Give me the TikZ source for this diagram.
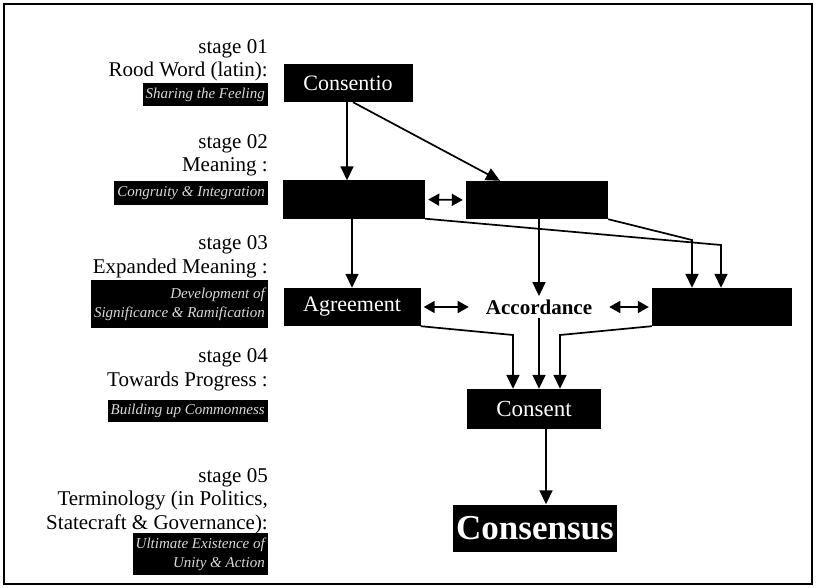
\documentclass[tikz,border=0pt]{standalone}
\usepackage{fontspec}
\setmainfont{Liberation Serif}
\usetikzlibrary{arrows.meta}
\tikzset{
  stage/.style={anchor=base east,align=right,inner sep=0pt,
    font=\fontsize{21}{23.5}\selectfont},
  sense/.style={anchor=east,fill=black,text=white!85!black,align=right,inner sep=3pt,
    font=\fontsize{15}{19}\selectfont\itshape},
  word/.style={fill=black,text=white,minimum height=38pt,
    font=\fontsize{22}{26}\selectfont},
  link/.style={line width=1.7pt,-{Triangle[length=14pt,width=13pt]}},
  both/.style={line width=1.7pt,{Triangle[length=11pt,width=12pt]}-{Triangle[length=11pt,width=12pt]},
    shorten <=3pt,shorten >=3pt}
}
\begin{document}
\begin{tikzpicture}[x=1pt,y=-1pt]
        \useasboundingbox (0,0) rectangle (816,588);
        \draw[line width=1.5pt] (4,4) rectangle (812,584);
        % stages on the left
        \node[stage] (st1) at (268,77) {stage 01\\Rood Word (latin):};
        \node[sense,minimum height=23pt] (se1) at (268,94.5) {Sharing the Feeling};
        \node[stage] (st2) at (268,172) {stage 02\\Meaning :};
        \node[sense,minimum height=24pt] (se2) at (268,193) {Congruity \& Integration};
        \node[stage] (st3) at (268,273) {stage 03\\Expanded Meaning :};
        \node[sense,minimum height=48pt] (se3) at (268,304) {Development of\\Significance \& Ramification};
        \node[stage] (st4) at (268,386) {stage 04\\Towards Progress :};
        \node[sense,minimum height=22pt] (se4) at (268,411) {Building up Commonness};
        \node[stage] (st5) at (268,529) {stage 05\\Terminology (in Politics,\\Statecraft \& Governance):};
        \node[sense,minimum height=42pt] (se5) at (268,554) {Ultimate Existence of\\Unity \& Action};
        % words
        \node[word,minimum width=129pt] (consentio) at (348,83) {Consentio};
        \node[word,minimum width=142pt] (congruity) at (354,199.5) {};
        \node[word,minimum width=142pt] (integration) at (537,200) {};
        \node[word,minimum width=137pt] (agreement) at (352,307) {Agreement};
        \node[font=\fontsize{21}{25}\selectfont\bfseries,inner xsep=14pt] (accordance) at (539,307) {Accordance};
        \node[word,minimum width=140pt] (concurrence) at (722,307) {};
        \node[word,minimum width=134pt,minimum height=40pt,font=\fontsize{23}{27}\selectfont] (consent) at (534,409) {Consent};
        \node[word,minimum width=157pt,minimum height=47pt,font=\fontsize{35}{40}\selectfont\bfseries] (consensus) at (535,528) {Consensus};
        \coordinate (k1) at (721,245);
        \coordinate (k2) at (692,240);
        \coordinate (k3) at (513,335);
        \coordinate (k4) at (560,335);
        \coordinate (k5) at ([xshift=12pt]consent.south);
        % arrows
        \draw[link] ([xshift=-1pt]consentio.south) -- ([xshift=-1pt]consentio.south |- congruity.north);
        \draw[link] ([xshift=5pt]consentio.south) -- ([xshift=-37pt]integration.north);
        \draw[both] (congruity.east) -- (integration.west);
        \draw[link] (agreement.north |- congruity.south) -- (agreement.north);
        \draw[link] (accordance.north |- integration.south) -- (accordance.north);
        \draw[link] (congruity.south east) -- (k1) -- (k1 |- concurrence.north);
        \draw[link] (integration.south east) -- (k2) -- (k2 |- concurrence.north);
        \draw[both] (agreement.east) -- (accordance.west);
        \draw[both] (accordance.east) -- (concurrence.west);
        \draw[link] (agreement.south east) -- (k3) -- (k3 |- consent.north);
        \draw[link] (accordance.south) -- (accordance.south |- consent.north);
        \draw[link] (concurrence.south west) -- (k4) -- (k4 |- consent.north);
        \draw[link] (k5) -- (k5 |- consensus.north);
        \end{tikzpicture}
\end{document}
